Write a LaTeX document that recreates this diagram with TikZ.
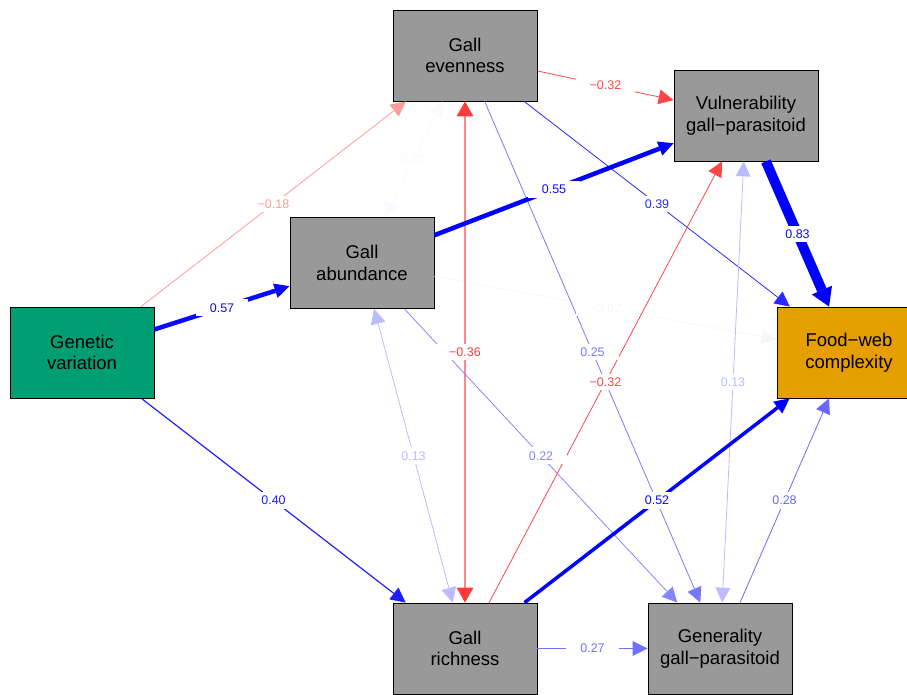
\documentclass[tikz,border=0pt]{standalone}
\usepackage{fontspec}
\setmainfont{Liberation Sans}
\usetikzlibrary{arrows.meta, calc}

\definecolor{boxgray}{RGB}{153,153,153}
\definecolor{gengreen}{RGB}{0,158,115}
\definecolor{fworange}{RGB}{230,159,0}
\definecolor{blue83}{RGB}{0,0,255}
\definecolor{blue57}{RGB}{10,10,255}
\definecolor{blue40}{RGB}{30,30,255}
\definecolor{blue39}{RGB}{40,40,255}
\definecolor{blue28}{RGB}{104,104,255}
\definecolor{blue27}{RGB}{112,112,255}
\definecolor{blue25}{RGB}{120,120,255}
\definecolor{blue22}{RGB}{132,132,255}
\definecolor{blue13}{RGB}{187,187,255}
\definecolor{red36}{RGB}{255,60,60}
\definecolor{red36l}{RGB}{255,135,135}
\definecolor{red32}{RGB}{255,70,70}
\definecolor{red18}{RGB}{255,155,155}
\definecolor{faintb}{RGB}{249,249,254}
\definecolor{faintr}{RGB}{247,246,246}

\begin{document}
\begin{tikzpicture}[x=1pt, y=-1pt,
    var/.style={draw=black, line width=0.8pt, fill=boxgray, minimum width=144pt,
      minimum height=91pt, align=center, font=\fontsize{18.5}{21.7}\selectfont},
    lbl/.style={fill=white, inner xsep=14pt, inner ysep=4pt,
      font=\fontsize{12.5}{14}\selectfont},
    >={Triangle[length=15pt, width=15pt, line width=0pt]},
    bighead/.style={-{Triangle[length=18pt, width=22pt, line width=0pt]}},
    cor36/.style={{Triangle[length=15pt, width=17pt, line width=0pt, color=red36]}-{Triangle[length=15pt, width=17pt, line width=0pt, color=red36]}}]
  \clip (0,0) rectangle (907,694);

  % variables
  \node[var] (eve) at (465,55.5) {Gall\\evenness};
  \node[var] (vul) at (746,115.5) {Vulnerability\\gall−parasitoid};
  \node[var] (abu) at (362,263) {Gall\\abundance};
  \node[var, fill=gengreen] (gen) at (82,352.5) {Genetic\\variation};
  \node[var, fill=fworange] (fwc) at (849,352.5) {Food−web\\complexity};
  \node[var] (ric) at (465,648.5) {Gall\\richness};
  \node[var] (gnr) at (720,648.5) {Generality\\gall−parasitoid};

  % paths
  \draw[->, line width=0.8pt]
  (abu) edge[<->, faintb] (eve)
  (abu) edge[faintr] (fwc)
  (gen) edge[red18] (eve)
  (gen) edge[blue40, line width=1.2pt] (ric)
  (eve) edge[red32] (vul)
  (eve) edge[blue39] (fwc)
  (eve) edge[blue25] (gnr)
  (eve) edge[cor36, red36l, line width=1.2pt] (ric)
  (abu) edge[<->, blue13] (ric)
  (abu) edge[blue22] (gnr)
  (vul) edge[<->, blue13] (gnr)
  (ric) edge[red32] (vul)
  (ric) edge[blue27] (gnr)
  (gnr) edge[blue28] (fwc)
  (ric) edge[blue83, line width=3.5pt] (fwc)
  (gen) edge[blue57, line width=4.5pt] (abu)
  (abu) edge[blue83, line width=4.5pt] (vul)
  (vul) edge[-, bighead, blue83, line width=10pt] (fwc);

  % coefficients
  \foreach \a/\b/\c/\t in {abu/eve/faintb/0.01, abu/fwc/faintr/−0.02,
      gen/abu/blue57/0.57, gen/eve/red18/−0.18, gen/ric/blue40/0.40,
      abu/vul/blue57/0.55, eve/vul/red32/−0.32, eve/fwc/blue39/0.39,
      eve/gnr/blue25/0.25, eve/ric/red36/−0.36, vul/fwc/blue57/0.83,
      abu/ric/blue13/0.13, abu/gnr/blue22/0.22, ric/vul/red32/−0.32,
      ric/fwc/blue57/0.52, ric/gnr/blue27/0.27, gnr/fwc/blue28/0.28,
      vul/gnr/blue13/0.13}
    \path (\a.center) -- node[lbl, text=\c] {\t} (\b.center);
\end{tikzpicture}
\end{document}
